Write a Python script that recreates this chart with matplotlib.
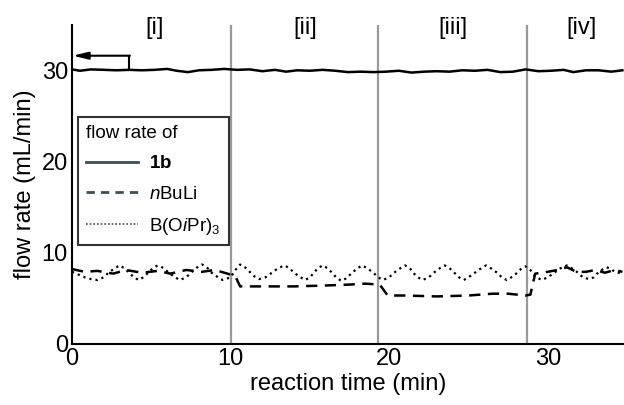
import matplotlib
matplotlib.use("Agg")
import matplotlib.pyplot as plt
from matplotlib.lines import Line2D

plt.rcParams['font.family'] = ['Liberation Sans', 'DejaVu Sans']
plt.rcParams['mathtext.fontset'] = 'custom'
plt.rcParams['mathtext.rm'] = 'Liberation Sans'
plt.rcParams['mathtext.it'] = 'Liberation Sans:italic'
plt.rcParams['mathtext.bf'] = 'Liberation Sans:bold'

# flow rate of 1b (mL/min)
t_1b = [0, 0.5, 1.2, 2.0, 2.8, 3.6, 4.4, 5.2, 6.0, 6.6, 7.3, 8.0, 8.8, 9.6, 10.4,
        11.2, 12.0, 12.8, 13.5, 14.2, 15.0, 15.8, 16.6, 17.4, 18.2, 19.0, 19.8,
        20.6, 21.4, 22.2, 23.0, 23.8, 24.6, 25.4, 26.2, 27.0, 27.8, 28.6, 29.4,
        30.2, 31.0, 31.6, 32.4, 33.2, 34.0, 34.7]
v_1b = [30.1, 29.95, 30.1, 30.05, 30.0, 30.05, 30.0, 30.05, 30.15, 29.95, 29.8, 30.0,
        30.05, 30.15, 30.05, 30.1, 29.9, 30.05, 29.85, 30.0, 29.95, 30.05, 29.95,
        29.8, 29.85, 29.8, 29.85, 29.95, 29.75, 29.85, 29.9, 29.85, 30.0, 29.95,
        30.05, 29.8, 29.85, 30.1, 29.9, 29.95, 30.05, 29.8, 30.0, 30.0, 29.85, 30.0]

# flow rate of nBuLi (mL/min)
t_nbuli = [0, 0.8, 1.6, 2.6, 3.4, 4.4, 5.4, 6.2, 7.2, 8.2, 9.0, 9.8, 10.3, 10.6,
           12.0, 14.0, 16.0, 17.5, 18.5, 19.4, 19.9, 21.0, 23.0, 25.0, 26.5, 27.5,
           28.6, 28.9, 29.2, 30.0, 30.6, 31.2, 31.8, 32.4, 33.0, 33.6, 34.2, 34.7]
v_nbuli = [8.2, 7.9, 8.0, 7.7, 8.1, 7.8, 8.0, 7.7, 8.1, 7.9, 8.1, 7.7, 7.4, 6.3,
           6.3, 6.3, 6.4, 6.5, 6.6, 6.5, 5.3, 5.3, 5.2, 5.3, 5.5, 5.5,
           5.3, 5.4, 7.7, 7.9, 8.1, 8.4, 7.9, 7.9, 8.1, 7.8, 8.1, 7.9]

# flow rate of B(OiPr)3 (mL/min)
t_boipr = [0, 0.4, 0.8, 1.2, 1.6, 2.0, 2.3, 2.7, 3.0, 3.3, 3.6, 3.9, 4.2, 4.5,
           4.8, 5.1, 5.4, 5.8, 6.1, 6.5, 6.8, 7.2, 7.5, 7.9, 8.2, 8.5, 8.8, 9.2,
           9.5, 10.0, 10.3, 10.6, 10.9, 11.2, 11.5, 11.8, 12.2, 12.6, 13.0, 13.4,
           13.7, 14.0, 14.4, 14.7, 15.0, 15.2, 15.5, 15.8, 16.1, 16.4, 16.7, 17.0,
           17.3, 17.6, 18.0, 18.3, 18.6, 19.0, 19.3, 19.6, 20.0, 20.3, 20.7, 21.0,
           21.3, 21.5, 21.8, 22.1, 22.5, 22.8, 23.2, 23.5, 23.8, 24.1, 24.4, 24.7,
           25.0, 25.4, 25.8, 26.1, 26.4, 26.8, 27.1, 27.4, 27.7, 28.0, 28.3, 28.6,
           28.9, 29.1, 29.4, 29.6, 30.0, 30.4, 30.8, 31.2, 31.5, 31.9, 32.2, 32.6,
           32.9, 33.1, 33.4, 33.7, 34.0, 34.2, 34.7]
v_boipr = [7.9, 7.6, 7.3, 7.1, 7.0, 7.3, 7.8, 8.3, 8.6, 8.3, 7.8, 7.3, 7.0, 7.3,
           7.8, 8.3, 8.6, 8.3, 7.8, 7.3, 7.0, 7.3, 7.8, 8.4, 8.7, 8.4, 7.8, 7.3,
           7.0, 7.3, 8.1, 8.7, 8.4, 7.9, 7.4, 7.1, 7.3, 7.8, 8.3, 8.6, 8.3, 7.8,
           7.3, 7.0, 7.3, 7.7, 8.3, 8.6, 8.3, 7.8, 7.2, 6.9, 7.2, 7.7, 8.3, 8.6,
           8.3, 7.8, 7.3, 7.0, 7.3, 7.8, 8.3, 8.6, 8.3, 7.8, 7.3, 7.0, 7.3, 7.8,
           8.3, 8.6, 8.3, 7.8, 7.3, 7.0, 7.3, 7.8, 8.3, 8.6, 8.3, 7.8, 7.3, 7.0,
           7.3, 7.7, 8.2, 8.5, 8.1, 7.6, 7.2, 7.0, 7.3, 7.8, 8.3, 8.6, 8.3, 7.8,
           7.3, 7.1, 7.3, 7.7, 8.1, 8.4, 8.2, 7.9, 7.7]

phase_bounds = [10.0, 19.3, 28.7]
phase_labels = ['[i]', '[ii]', '[iii]', '[iv]']
phase_label_x = [5.2, 14.7, 24.0, 32.1]

fig = plt.figure(figsize=(6.24, 4.05), dpi=100)
ax = fig.add_axes([0.1154, 0.151, 0.8846, 0.788])

for xb in phase_bounds:
    ax.axvline(xb, color='#9a9a9a', lw=1.6, zorder=1)

ax.plot(t_1b, v_1b, color='black', lw=1.8, ls='-', zorder=3)
ax.plot(t_nbuli, v_nbuli, color='black', lw=1.8, ls=(0, (4.5, 3)), zorder=3)
ax.plot(t_boipr, v_boipr, color='black', lw=1.6, ls=(0, (1, 1.8)), zorder=3)

for lx, lab in zip(phase_label_x, phase_labels):
    ax.text(lx, 34.6, lab, ha='center', va='center', fontsize=17)

# arrow pointing to the y-axis for 1b
ax.plot([3.6, 3.6], [30.1, 31.6], color='black', lw=1.5)
ax.annotate('', xy=(0.05, 31.6), xytext=(3.65, 31.6),
            arrowprops=dict(arrowstyle='-|>,head_length=0.9,head_width=0.22',
                            color='black', lw=1.5, shrinkA=0, shrinkB=0))

ax.set_xlim(0, 34.8)
ax.set_ylim(0, 35)
ax.set_xticks([0, 10, 20, 30])
ax.set_yticks([0, 10, 20, 30])
ax.tick_params(length=0, labelsize=17, pad=3)
for s in ['top', 'right']:
    ax.spines[s].set_visible(False)
for s in ['left', 'bottom']:
    ax.spines[s].set_linewidth(1.5)
ax.set_xlabel('reaction time (min)', fontsize=17, labelpad=2)
ax.set_ylabel('flow rate (mL/min)', fontsize=17, labelpad=4)

hc = '#3c5058'
handles = [Line2D([], [], color=hc, lw=2, ls='-'),
           Line2D([], [], color=hc, lw=2, ls=(0, (3, 2.2))),
           Line2D([], [], color=hc, lw=1.2, ls=(0, (1, 1.2)))]
labels = [r'$\mathbf{1b}$', r'$\mathit{n}$BuLi', r'B(O$\mathit{i}$Pr)$_3$']
leg = ax.legend(handles, labels, title='flow rate of', loc='upper left',
                bbox_to_anchor=(0.01, 0.712), borderaxespad=0,
                fontsize=13.5, title_fontsize=13.5,
                handlelength=2.8, handletextpad=0.55, labelspacing=0.7,
                frameon=True, fancybox=False, edgecolor='black',
                borderpad=0.45)
leg._legend_box.align = 'left'
leg.get_frame().set_linewidth(1.5)

fig.savefig('out.png', dpi=100)
